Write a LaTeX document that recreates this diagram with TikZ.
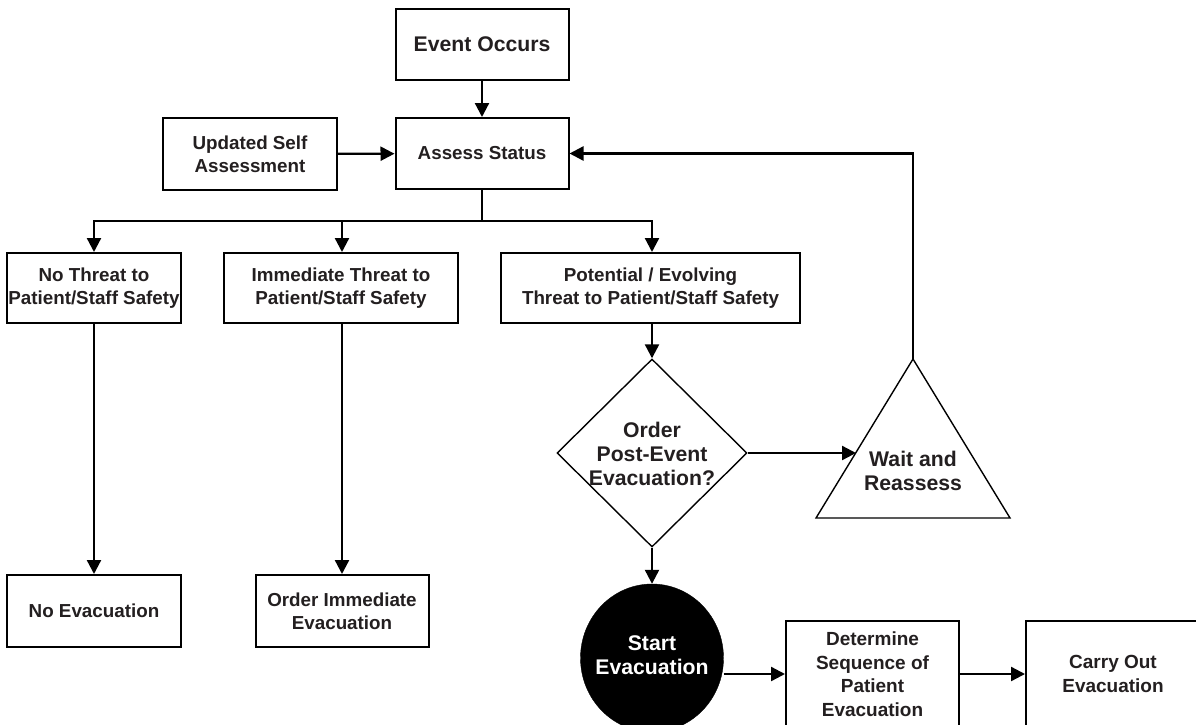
\documentclass[tikz,border=0pt]{standalone}
\usepackage{fontspec}
\setmainfont{Liberation Sans}
\usetikzlibrary{arrows.meta,shapes.geometric,calc}
\definecolor{ink}{RGB}{35,31,32}
\begin{document}
\begin{tikzpicture}[x=1pt,y=-1pt,
  flowbox/.style={draw=black, line width=2pt, inner sep=0pt, align=center, text=ink,
    font=\bfseries\fontsize{18.8}{23}\selectfont},
  bigtext/.style={inner sep=0pt, align=center, text=ink, font=\bfseries\fontsize{21.2}{24}\selectfont},
  arr/.style={line width=2.3pt, -{Triangle[length=14pt,width=14pt]}},
  thinshape/.style={draw=black, line width=1.4pt, line join=miter}]
\useasboundingbox (0,0) rectangle (1196,725);
\clip (0,0) rectangle (1196,725);
\fill[white] (0,0) rectangle (1196,725);

% boxes
\node[flowbox, minimum width=173, minimum height=71, font=\bfseries\fontsize{21.2}{25}\selectfont] (ev) at (482,44.5) {Event Occurs};
\node[flowbox, minimum width=173, minimum height=71] (as) at (482,153.5) {Assess Status};
\node[flowbox, minimum width=174, minimum height=72] (up) at (250,154) {Updated Self\\Assessment};
\node[flowbox, minimum width=174, minimum height=70] (nt) at (94,288) {No Threat to\\Patient/Staff Safety};
\node[flowbox, minimum width=234, minimum height=70] (im) at (341,288) {Immediate Threat to\\Patient/Staff Safety};
\node[flowbox, minimum width=299, minimum height=70] (po) at (650.5,288) {Potential / Evolving\\Threat to Patient/Staff Safety};
\node[flowbox, minimum width=174, minimum height=72] (ne) at (94,611) {No Evacuation};
\node[flowbox, minimum width=173, minimum height=72] (oi) at (342,611) {Order Immediate\\Evacuation};

% decision
\node[diamond, thinshape, minimum width=190, minimum height=188, inner sep=0pt] (di) at (652,453) {};
\node[bigtext] (dit) at (652,454) {Order\\Post-Event\\Evacuation?};

% triangle
\coordinate (tra) at (913,359);
\coordinate (trl) at (816,518);
\coordinate (trr) at (1010,518);
\coordinate (tri) at (856,453);
\draw[thinshape] (tra) -- (trl) -- (trr) -- cycle;
\node[bigtext] (trt) at (913,471) {Wait and\\Reassess};

% start evacuation
\node[ellipse, fill=black, draw=black, minimum width=143, minimum height=148, inner sep=0pt] (se) at (652,658) {};
\node[bigtext, text=white] (set) at (652,655) {Start\\Evacuation};

\node[flowbox, minimum width=173, minimum height=106, font=\bfseries\fontsize{19}{23.5}\selectfont] (de) at (872.5,674) {Determine\\Sequence of\\Patient\\Evacuation};
\node[flowbox, minimum width=174, minimum height=106, font=\bfseries\fontsize{19}{23.5}\selectfont] (co) at (1113,674) {Carry Out\\Evacuation};

% connectors
\coordinate (split) at (482,221);
\coordinate (sr) at (652,221);
\draw[arr] (ev) -- (as);
\draw[arr] (up) -- (as);
\draw[arr] (as.south) -- (split) -| (nt.north);
\draw[arr] (split) -| (oi.north |- im.north);
\draw[arr] (split) -| (sr |- po.north);
\draw[arr] (nt) -- (ne);
\draw[arr] (oi.north |- im.south) -- (oi.north);
\draw[arr] (di.north |- po.south) -- (di.north);
\draw[arr] (di.east) -- (tri);
\draw[arr] (tra) -- (tra |- as.east) -- (as.east);
\draw[arr] (di.south) -- (se.north);
\draw[arr] (de.west -| se.east) -- (de.west);
\draw[arr] (de) -- (co);
\end{tikzpicture}
\end{document}
